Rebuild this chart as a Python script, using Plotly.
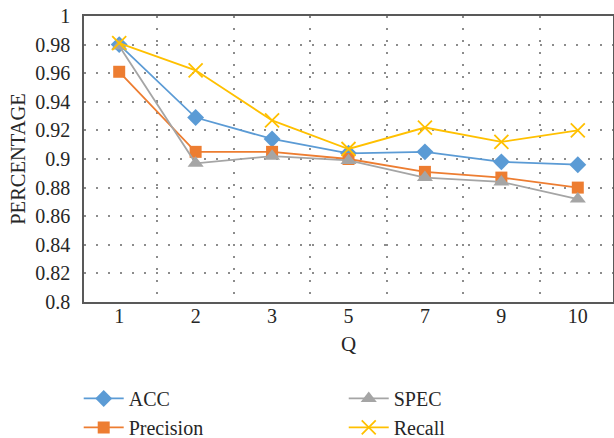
import plotly.graph_objects as go

categories = ["1", "2", "3", "5", "7", "9", "10"]
acc = [0.980, 0.929, 0.914, 0.904, 0.905, 0.898, 0.896]
precision = [0.961, 0.905, 0.905, 0.900, 0.891, 0.887, 0.880]
spec = [0.979, 0.897, 0.902, 0.899, 0.887, 0.884, 0.872]
recall = [0.981, 0.962, 0.927, 0.907, 0.922, 0.912, 0.920]

ytickvals = [0.8, 0.82, 0.84, 0.86, 0.88, 0.9, 0.92, 0.94, 0.96, 0.98, 1.0]
yticktext = ["0.8", "0.82", "0.84", "0.86", "0.88", "0.9", "0.92", "0.94", "0.96", "0.98", "1"]

FONT = "Liberation Serif"
TXT = "#262626"

fig = go.Figure()
fig.add_trace(go.Scatter(x=categories, y=acc, name="ACC", mode="lines+markers",
                         line=dict(color="#5B9BD5", width=1.8),
                         marker=dict(symbol="diamond", size=13, color="#5B9BD5"),
                         legend="legend"))
fig.add_trace(go.Scatter(x=categories, y=precision, name="Precision", mode="lines+markers",
                         line=dict(color="#ED7D31", width=1.8),
                         marker=dict(symbol="square", size=12, color="#ED7D31"),
                         legend="legend"))
fig.add_trace(go.Scatter(x=categories, y=spec, name="SPEC", mode="lines+markers",
                         line=dict(color="#A5A5A5", width=1.8),
                         marker=dict(symbol="triangle-up", size=14, color="#A5A5A5"),
                         legend="legend2"))
fig.add_trace(go.Scatter(x=categories, y=recall, name="Recall", mode="lines+markers",
                         line=dict(color="#FFC000", width=1.8),
                         marker=dict(symbol="x-thin-open", size=14,
                                     line=dict(color="#FFC000", width=1.8)),
                         legend="legend2"))

fig.update_layout(
    width=614, height=438,
    margin=dict(l=84, r=1, t=16, b=136, autoexpand=False),
    plot_bgcolor="white", paper_bgcolor="white",
    font=dict(family=FONT, size=20, color=TXT),
    legend=dict(x=-0.01, xanchor="left", y=-0.269, yanchor="top",
                orientation="v", font=dict(size=20, family=FONT, color=TXT),
                tracegroupgap=0, itemwidth=40, bgcolor="rgba(0,0,0,0)"),
    legend2=dict(x=0.491, xanchor="left", y=-0.269, yanchor="top",
                 orientation="v", font=dict(size=20, family=FONT, color=TXT),
                 tracegroupgap=0, itemwidth=40, bgcolor="rgba(0,0,0,0)"),
)
fig.update_xaxes(
    type="category", tickson="boundaries", automargin=False,
    showgrid=True, gridcolor="#8c8c8c", gridwidth=1.5, griddash="1.5px,10.5px",
    showline=True, linecolor="#595959", linewidth=1.5, mirror=True,
    ticks="", ticklabelstandoff=-5, tickfont=dict(size=20, family=FONT, color=TXT),
    title=dict(text="Q", font=dict(size=21, family=FONT, color=TXT), standoff=11),
)
fig.update_yaxes(
    range=[0.8, 1.0], tickvals=ytickvals, ticktext=yticktext, automargin=False,
    showgrid=True, gridcolor="#8c8c8c", gridwidth=1.5, griddash="1.5px,10.5px",
    showline=True, linecolor="#595959", linewidth=1.5, mirror=True,
    zeroline=False, ticks="", ticklabelstandoff=8,
    tickfont=dict(size=20, family=FONT, color=TXT),
    title=dict(text="PERCENTAGE", font=dict(size=20.5, family=FONT, color=TXT), standoff=4),
)

fig.write_html("out.html")
